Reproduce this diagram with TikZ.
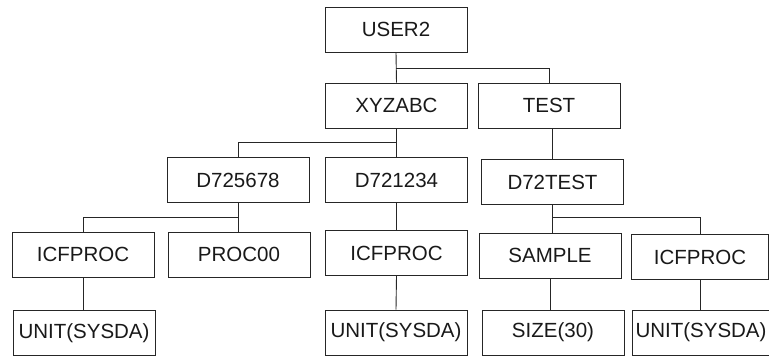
\documentclass[tikz,border=0pt]{standalone}
\usepackage{fontspec}
\setmainfont{Liberation Sans}
\usepackage{tikz}

\begin{document}
\begin{tikzpicture}[x=1pt,y=-1pt,
  box/.style={draw=black!85, line width=0.9pt, minimum width=142pt, minimum height=45pt,
    inner sep=0pt, font=\fontsize{20.5}{24}\selectfont, text=black!90},
  link/.style={draw=black!85, line width=0.9pt}]
\useasboundingbox (0,0) rectangle (769,356);

% 第一层
\node[box] (user) at (396,29.5) {USER2};

% 第二层
\node[box] (xyz) at (396.5,105.5) {XYZABC};
\node[box] (test) at (549,105.5) {TEST};

% 第三层
\node[box] (d725) at (238,180) {D725678};
\node[box] (d721) at (396.5,180) {D721234};
\node[box] (d72t) at (552.5,182) {D72TEST};

% 第四层
\node[box] (icfa) at (83,254.5) {ICFPROC};
\node[box] (proc) at (239,254.5) {PROC00};
\node[box] (icfb) at (396.5,253) {ICFPROC};
\node[box] (samp) at (550,255.5) {SAMPLE};
\node[box, minimum width=137pt] (icfc) at (700,257) {ICFPROC};

% 第五层
\node[box] (unita) at (84,333) {UNIT(SYSDA)};
\node[box] (unitb) at (396,332.5) {UNIT(SYSDA)};
\node[box] (size) at (553,332.5) {SIZE(30)};
\node[box, minimum width=137pt] (unitc) at (701,332.5) {UNIT(SYSDA)};

% 连线
\draw[link] (user.south) -- (xyz.north);
\draw[link] (user.south) ++(0,16) -| (test.north);
\draw[link] (xyz.south) -- (d721.north);
\draw[link] (xyz.south) ++(0,14) -| (d725.north);
\draw[link] (d72t.north) -- (d72t.north |- test.south);
\draw[link] (d725.south) -- (d725.south |- proc.north);
\draw[link] (d725.south) ++(0,14) -| (icfa.north);
\draw[link] (d721.south) -- (icfb.north);
\draw[link] (d72t.south) -- (d72t.south |- samp.north);
\draw[link] (d72t.south) ++(0,12) -| (icfc.north);
\draw[link] (icfa.south) -- (icfa.south |- unita.north);
\draw[link] (icfb.south) -- (unitb.north);
\draw[link] (samp.south) -- (samp.south |- size.north);
\draw[link] (icfc.south) -- (icfc.south |- unitc.north);
\end{tikzpicture}
\end{document}
